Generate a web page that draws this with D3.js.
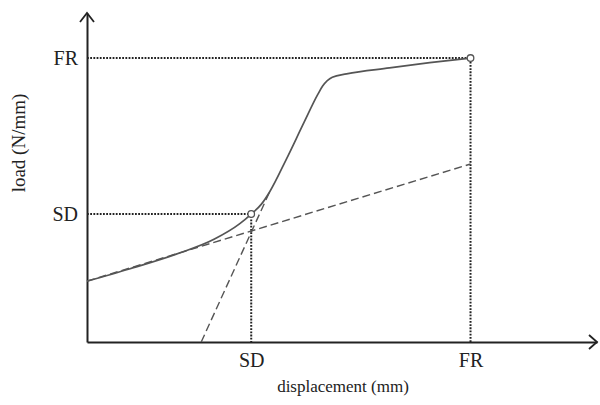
<!DOCTYPE html>
<html>
<head>
<meta charset="utf-8">
<script src="https://cdn.jsdelivr.net/npm/d3@7"></script>
<style>
  html, body { margin: 0; padding: 0; background: #fff; }
  svg { display: block; }
  text { font-family: "Liberation Serif", "DejaVu Serif", serif; fill: #222; }
</style>
</head>
<body>
<svg id="chart" width="600" height="405"></svg>
<script>
// ---- data (arbitrary units) ----
const curveX = [0, 0.83, 1.75, 2.50, 2.99, 3.22, 3.42, 3.58, 3.91, 4.26, 4.52, 4.62, 4.81, 5.09, 5.93, 6.72, 7.52];
const curveY = [1.85, 2.22, 2.67, 3.13, 3.59, 3.89, 4.19, 4.56, 5.56, 6.69, 7.51, 7.78, 8.05, 8.15, 8.33, 8.49, 8.63];
const tangent1X = [0, 7.52];
const tangent1Y = [1.85, 5.41];
const tangent2X = [2.24, 3.58];
const tangent2Y = [0, 4.56];
const pointLabels = ["SD", "FR"];
const pointX = [3.22, 7.52];
const pointY = [3.89, 8.63];
const xTitle = "displacement (mm)";
const yTitle = "load (N/mm)";

const svg = d3.select("#chart");
const x = d3.scaleLinear().domain([0, 10]).range([87, 597]);
const y = d3.scaleLinear().domain([0, 10]).range([342, 13]);

const ink = "#222";

// axes (domain lines, tick labels)
const xAxis = d3.axisBottom(x).tickValues(pointX).tickFormat((d, i) => pointLabels[i])
  .tickSize(0).tickSizeOuter(0).tickPadding(11);
const yAxis = d3.axisLeft(y).tickValues(pointY).tickFormat((d, i) => pointLabels[i])
  .tickSize(0).tickSizeOuter(0).tickPadding(9);

const gx = svg.append("g").attr("transform", `translate(0,${y(0)})`).call(xAxis);
const gy = svg.append("g").attr("transform", `translate(${x(0)},0)`).call(yAxis);
[gx, gy].forEach(g => {
  g.attr("font-size", null).attr("font-family", null);
  g.select(".domain").attr("stroke", ink).attr("stroke-width", 2);
  g.selectAll("text").style("font-family", '"Liberation Serif", serif')
    .style("font-size", "20px").attr("fill", ink);
});

// arrowheads
const xEnd = x.range()[1], yTop = y.range()[1];
svg.append("path")
  .attr("d", `M${xEnd - 8},${y(0) - 7} L${xEnd},${y(0)} L${xEnd - 8},${y(0) + 7}`)
  .attr("fill", "none").attr("stroke", ink).attr("stroke-width", 1.8);
svg.append("path")
  .attr("d", `M${x(0) - 7},${yTop + 9} L${x(0)},${yTop} L${x(0) + 7},${yTop + 9}`)
  .attr("fill", "none").attr("stroke", ink).attr("stroke-width", 1.8);

// dotted guide lines
pointX.forEach((px, i) => {
  const py = pointY[i];
  svg.append("path")
    .attr("d", d3.line()([[x(0), y(py)], [x(px), y(py)], [x(px), y(0)]]))
    .attr("fill", "none").attr("stroke", "#222").attr("stroke-width", 2)
    .attr("stroke-dasharray", "1.8,1.4");
});

// dashed tangents
const line = d3.line().x(d => x(d[0])).y(d => y(d[1]));
[[tangent1X, tangent1Y], [tangent2X, tangent2Y]].forEach(([tx, ty]) => {
  svg.append("path")
    .attr("d", line(tx.map((v, i) => [v, ty[i]])))
    .attr("fill", "none").attr("stroke", "#555").attr("stroke-width", 1.4)
    .attr("stroke-dasharray", "8,4");
});

// main curve
svg.append("path")
  .attr("d", d3.line().x(d => x(d[0])).y(d => y(d[1])).curve(d3.curveMonotoneX)(curveX.map((v, i) => [v, curveY[i]])))
  .attr("fill", "none").attr("stroke", "#555").attr("stroke-width", 1.7);

// markers
svg.selectAll("circle.pt").data(pointX).enter().append("circle")
  .attr("cx", d => x(d)).attr("cy", (d, i) => y(pointY[i])).attr("r", 3.3)
  .attr("fill", "#fff").attr("stroke", "#555").attr("stroke-width", 1.3);

// titles
svg.append("text").attr("x", 343).attr("y", 392).attr("text-anchor", "middle")
  .style("font-size", "17px").text(xTitle);
svg.append("text").attr("transform", "translate(25,143) rotate(-90)").attr("text-anchor", "middle")
  .style("font-size", "19px").text(yTitle);
</script>
</body>
</html>
